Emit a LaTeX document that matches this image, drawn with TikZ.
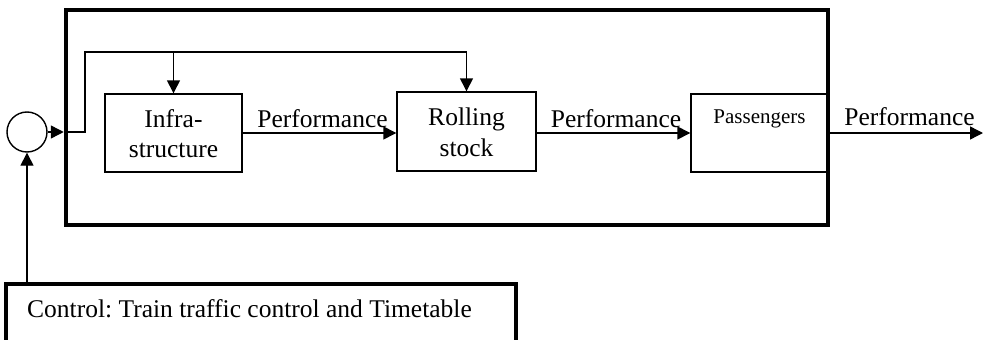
\documentclass[tikz,border=0pt]{standalone}
\usepackage{fontspec}
\setmainfont{Liberation Serif}
\usetikzlibrary{arrows.meta}
\frenchspacing
\begin{document}
\begin{tikzpicture}[x=1pt,y=-1pt,
  thinline/.style={line width=1.4pt},
  thickbox/.style={draw,line width=4.5pt},
  blockbox/.style={draw,line width=1.4pt,inner sep=0pt},
  arr/.style={thinline,-{Triangle[length=13pt,width=13pt]}},
  txt/.style={inner sep=0pt,anchor=base,font=\fontsize{25.5}{30}\selectfont},
  smalltxt/.style={inner sep=0pt,anchor=base,font=\fontsize{21}{25}\selectfont}]
\useasboundingbox (0,0) rectangle (983,340);
\clip (0,0) rectangle (983,340);
% outer system box
\node[thickbox,inner sep=0pt,minimum width=762pt,minimum height=215pt] (sys) at (447,117.5) {};
% blocks
\node[blockbox,minimum width=137pt,minimum height=78pt] (infra) at (173.5,133) {};
\node[blockbox,minimum width=139pt,minimum height=79pt] (roll) at (466.5,131.5) {};
\node[blockbox,minimum width=137pt,minimum height=78pt] (pass) at (759.5,133) {};
% texts in blocks
\node[txt] (t1) at (173.5,127) {Infra-};
\node[txt] (t2) at (173.5,157) {structure};
\node[txt] (t3) at (466.5,125) {Rolling};
\node[txt] (t4) at (466.5,156) {stock};
\node[smalltxt] (t5) at (759.5,123) {Passengers};
% summing circle
\node[draw,thinline,circle,minimum size=40pt,inner sep=0pt] (sum) at (27,132) {};
% control box
\node[thickbox,inner sep=0pt,minimum width=510pt,minimum height=70pt] (ctrl) at (261,319) {};
\node[txt,anchor=base west] (ct) at (27,317) {Control: Train traffic control and Timetable};
% connectors
\coordinate (in) at (sys.west |- sum.east);
\coordinate (fb1) at (85,132);
\coordinate (fb2) at (85,52);
\coordinate (fb3) at (roll.north |- fb2);
\coordinate (fb4) at (infra.north |- fb2);
\coordinate (ctop) at (27,282);
\coordinate (outend) at (983,133);
\draw[arr] (sum.east) -- (in);
\draw[thinline] (in) -- (fb1) -- (fb2) -- (fb3);
\draw[arr] (fb3) -- (roll.north);
\draw[arr] (fb4) -- (infra.north);
\draw[arr] (ctop) -- (sum.south);
\draw[arr] (infra.east) -- (roll.west |- infra.east);
\draw[arr] (roll.east |- 0,133) -- (pass.west |- 0,133);
\draw[arr] (pass.east |- outend) -- (outend);
% labels
\node[txt] (p1) at (322.5,127) {Performance};
\node[txt] (p2) at (616,127) {Performance};
\node[txt] (p3) at (909.5,125) {Performance};
\end{tikzpicture}
\end{document}
